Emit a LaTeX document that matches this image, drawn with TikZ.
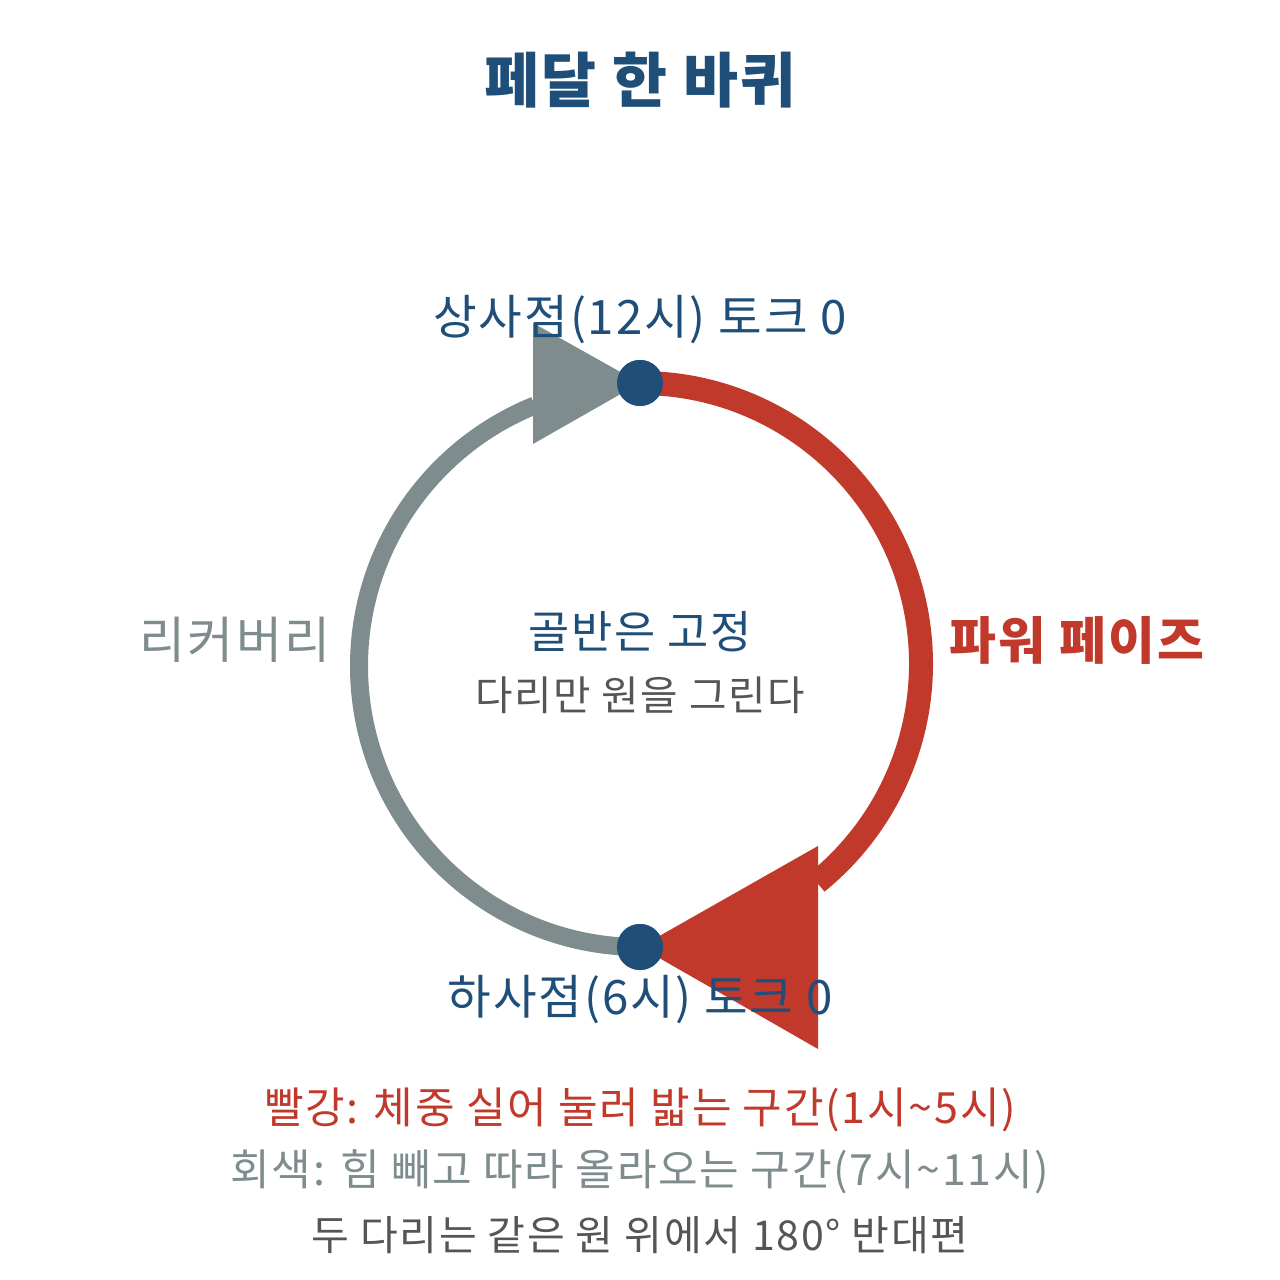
\documentclass[tikz,border=0pt]{standalone}
\usepackage{fontspec}
\setmainfont{Noto Sans CJK KR}[LetterSpace=4]
\definecolor{pedalred}{HTML}{C0392B}
\definecolor{pedalgray}{HTML}{7F8C8D}
\definecolor{pedalblue}{HTML}{1F4E79}
\definecolor{notegray}{HTML}{555555}
\begin{document}
\begin{tikzpicture}[x=0.02cm,y=0.02cm,
    dot/.style={circle,fill=pedalblue,inner sep=0pt,minimum size=0.92cm},
    big/.style={font=\fontsize{27}{32}\selectfont},
    mid/.style={font=\fontsize{25.5}{30}\selectfont},
    small/.style={font=\fontsize{24.5}{29}\selectfont}]
    \useasboundingbox (0,0) rectangle (1280,1280);
    \node[pedalblue,font=\fontsize{34}{40}\selectfont\bfseries] (title) at (640,1200) {페달 한 바퀴};
    \node[dot] (top) at (640,897) {};
    \node[dot] (bot) at (640,333) {};
    \draw[pedalgray,line width=0.36cm] (bot.center) arc[start angle=270,end angle=112,radius=281];
    \draw[pedalred,line width=0.48cm] (top.center) arc[start angle=90,end angle=-51,radius=281];
    \fill[pedalgray] (top.center) -- ++(-107,60) -- ++(0,-121) -- cycle;
    \fill[pedalred] (bot.center) -- ++(178,101) -- ++(0,-203) -- cycle;
    \node[dot] at (top) {};
    \node[dot] at (bot) {};
    \node[big,pedalblue] (tdc) at (640,960) {상사점(12시) 토크 0};
    \node[big,pedalblue] (bdc) at (640,280) {하사점(6시) 토크 0};
    \node[pedalgray,font=\fontsize{28.5}{33}\selectfont] (rec) at (235,640) {리커버리};
    \node[pedalred,font=\fontsize{29}{34}\selectfont\bfseries] (pow) at (1077,640) {파워 페이즈};
    \node[mid,pedalblue] (hip) at (640,648) {골반은 고정};
    \node[notegray,font=\fontsize{23.2}{28}\selectfont] (leg) at (640,585) {다리만 원을 그린다};
    \node[small,pedalred] (n1) at (640,170) {빨강: 체중 실어 눌러 밟는 구간(1시\textasciitilde 5시)};
    \node[small,pedalgray] (n2) at (640,108) {회색: 힘 빼고 따라 올라오는 구간(7시\textasciitilde 11시)};
    \node[notegray,font=\fontsize{23.4}{28}\selectfont] (n3) at (640,45) {두 다리는 같은 원 위에서 180° 반대편};
\end{tikzpicture}
\end{document}
